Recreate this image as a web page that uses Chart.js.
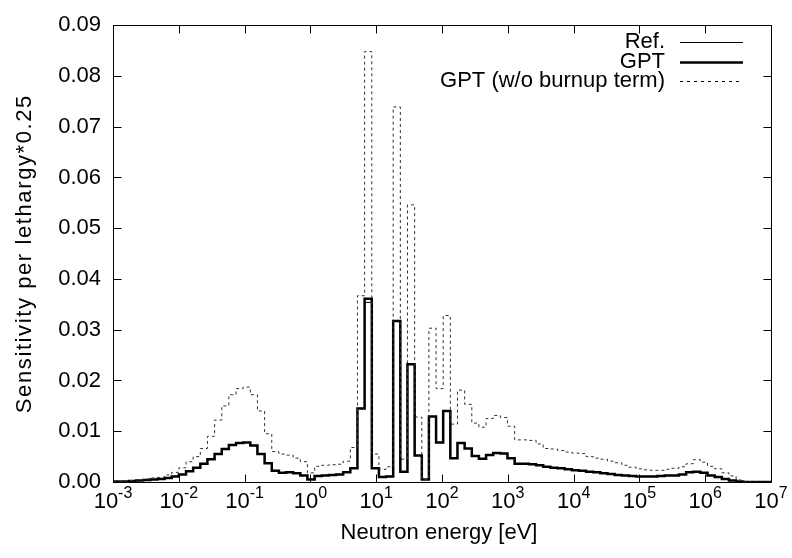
<!DOCTYPE html>
<html lang="en">
<head>
    <meta charset="UTF-8">
    <title>Sensitivity per lethargy</title>
    <script src="https://cdn.jsdelivr.net/npm/chart.js"></script>
    <style>
        html, body {
            margin: 0;
            padding: 0;
            background-color: #ffffff;
        }
        .chart-box {
            position: relative;
            width: 792px;
            height: 558px;
        }
    </style>
</head>
<body>
    <div class="chart-box">
        <canvas id="sensChart" width="792" height="558"></canvas>
    </div>

    <script>
// group boundaries as log10(E / eV), roughly 0.25 lethargy per group
const groupEdges = [
    -3, -2.867, -2.759, -2.650, -2.541, -2.433, -2.324, -2.216, -2.107, -1.999,
    -1.890, -1.782, -1.673, -1.565, -1.456, -1.347, -1.239, -1.130, -1.022, -0.913,
    -0.805, -0.696, -0.587, -0.479, -0.370, -0.262, -0.153, -0.045, 0.064, 0.173,
    0.281, 0.390, 0.498, 0.607, 0.715, 0.824, 0.933, 1.041, 1.150, 1.258,
    1.367, 1.475, 1.584, 1.693, 1.801, 1.910, 2.018, 2.127, 2.235, 2.344,
    2.453, 2.561, 2.670, 2.778, 2.887, 2.995, 3.104, 3.213, 3.321, 3.430,
    3.538, 3.647, 3.755, 3.864, 3.973, 4.081, 4.190, 4.298, 4.407, 4.515,
    4.624, 4.733, 4.841, 4.950, 5.058, 5.167, 5.275, 5.384, 5.493, 5.601,
    5.710, 5.818, 5.927, 6.035, 6.144, 6.253, 6.361, 6.470, 6.578, 6.687,
    6.795, 6.904, 7
];

// sensitivity per lethargy * 0.25, one value per group
const refValues = [
    0.0001, 0.0001, 0.0002, 0.0003, 0.0004, 0.0005, 0.0006, 0.0008, 0.0011, 0.0015,
    0.0021, 0.0028, 0.0036, 0.0045, 0.0055, 0.0065, 0.0073, 0.0077, 0.0078, 0.0072,
    0.0055, 0.0037, 0.0022, 0.0018, 0.0019, 0.0017, 0.0013, 0.0005, 0.0012, 0.0013,
    0.0014, 0.0015, 0.0019, 0.0027, 0.0145, 0.0354, 0.0027, 0.0010, 0.0011, 0.0317,
    0.0020, 0.0232, 0.0052, 0.0005, 0.0129, 0.0078, 0.0140, 0.0047, 0.0077, 0.0066,
    0.0051, 0.0046, 0.0053, 0.0057, 0.0056, 0.0047, 0.0036, 0.0036, 0.0035, 0.0033,
    0.0030, 0.0028, 0.0027, 0.0025, 0.0023, 0.0022, 0.0020, 0.0019, 0.0017, 0.0016,
    0.0014, 0.0013, 0.0012, 0.0011, 0.0011, 0.0011, 0.0012, 0.0013, 0.0013, 0.0015,
    0.0019, 0.0020, 0.0018, 0.0013, 0.0010, 0.0006, 0.0003, 0.0001, 0.0000, 0.0000,
    0.0000, 0.0000
];
const gptValues = [
    0.0001, 0.0001, 0.0002, 0.0003, 0.0004, 0.0005, 0.0006, 0.0008, 0.0011, 0.0015,
    0.0021, 0.0028, 0.0036, 0.0045, 0.0055, 0.0065, 0.0073, 0.0077, 0.0078, 0.0072,
    0.0055, 0.0037, 0.0022, 0.0018, 0.0019, 0.0017, 0.0013, 0.0005, 0.0012, 0.0013,
    0.0014, 0.0015, 0.0019, 0.0027, 0.0145, 0.0361, 0.0027, 0.0010, 0.0011, 0.0317,
    0.0020, 0.0232, 0.0052, 0.0005, 0.0129, 0.0078, 0.0140, 0.0047, 0.0077, 0.0066,
    0.0051, 0.0046, 0.0053, 0.0057, 0.0056, 0.0047, 0.0036, 0.0036, 0.0035, 0.0033,
    0.0030, 0.0028, 0.0027, 0.0025, 0.0023, 0.0022, 0.0020, 0.0019, 0.0017, 0.0016,
    0.0014, 0.0013, 0.0012, 0.0011, 0.0011, 0.0011, 0.0012, 0.0013, 0.0013, 0.0015,
    0.0019, 0.0020, 0.0018, 0.0013, 0.0010, 0.0006, 0.0003, 0.0001, 0.0000, 0.0000,
    0.0000, 0.0000
];
const noBurnupValues = [
    0.0001, 0.0002, 0.0003, 0.0004, 0.0006, 0.0008, 0.0009, 0.0014, 0.0019, 0.0028,
    0.0040, 0.0050, 0.0066, 0.0090, 0.0122, 0.0150, 0.0172, 0.0184, 0.0187, 0.0172,
    0.0140, 0.0095, 0.0060, 0.0055, 0.0053, 0.0047, 0.0040, 0.0018, 0.0031, 0.0033,
    0.0034, 0.0035, 0.0041, 0.0068, 0.0367, 0.0848, 0.0055, 0.0025, 0.0030, 0.0739,
    0.0045, 0.0546, 0.0128, 0.0005, 0.0303, 0.0184, 0.0328, 0.0114, 0.0181, 0.0153,
    0.0116, 0.0108, 0.0125, 0.0131, 0.0127, 0.0110, 0.0083, 0.0083, 0.0082, 0.0075,
    0.0066, 0.0065, 0.0062, 0.0059, 0.0057, 0.0056, 0.0050, 0.0047, 0.0045, 0.0041,
    0.0038, 0.0033, 0.0029, 0.0026, 0.0024, 0.0023, 0.0023, 0.0025, 0.0027, 0.0030,
    0.0036, 0.0044, 0.0039, 0.0031, 0.0026, 0.0018, 0.0012, 0.0004, 0.0001, 0.0000,
    0.0000, 0.0000
];

const xTickExponents = [-3, -2, -1, 0, 1, 2, 3, 4, 5, 6, 7];
const yTicks = [0, 0.01, 0.02, 0.03, 0.04, 0.05, 0.06, 0.07, 0.08, 0.09];
const seriesNames = ['Ref.', 'GPT', 'GPT (w/o burnup term)'];
const xTitle = 'Neutron energy [eV]';
const yTitle = 'Sensitivity per lethargy*0.25';

const FONT = "'Liberation Sans', Arial, Helvetica, sans-serif";
const FONT_SIZE = 22;

// turn group values into a histogram-like step line
function stepPoints(values) {
    let pts = [];
    for (let i = 0; i < values.length; i++) {
        pts.push({ x: Math.pow(10, groupEdges[i]), y: values[i] });
        pts.push({ x: Math.pow(10, groupEdges[i + 1]), y: values[i] });
    }
    return pts;
}

// gnuplot style border, inward ticks, 10^n labels, axis titles and the key
const gnuplotLook = {
    id: 'gnuplotLook',
    afterDatasetsDraw(chart) {
        const ctx = chart.ctx;
        const a = chart.chartArea;
        const xs = chart.scales.x;
        const ys = chart.scales.y;
        const L = Math.round(a.left) + 0.5, R = Math.round(a.right) + 0.5;
        const T = Math.round(a.top) + 0.5, B = Math.round(a.bottom) + 0.5;
        const tick = 8;

        ctx.save();
        ctx.strokeStyle = '#000';
        ctx.lineWidth = 1;
        ctx.setLineDash([]);
        ctx.beginPath();
        yTicks.forEach(v => {
            const py = Math.round(ys.getPixelForValue(v)) + 0.5;
            ctx.moveTo(L, py); ctx.lineTo(L + tick, py);
            ctx.moveTo(R, py); ctx.lineTo(R - tick, py);
        });
        xTickExponents.forEach(e => {
            const px = Math.round(xs.getPixelForValue(Math.pow(10, e))) + 0.5;
            ctx.moveTo(px, B); ctx.lineTo(px, B - tick);
            ctx.moveTo(px, T); ctx.lineTo(px, T + tick);
        });
        ctx.stroke();
        ctx.strokeRect(L, T, R - L, B - T);

        // x tick labels with superscript exponent
        ctx.fillStyle = '#000';
        ctx.textBaseline = 'alphabetic';
        ctx.textAlign = 'left';
        xTickExponents.forEach(e => {
            const px = xs.getPixelForValue(Math.pow(10, e));
            ctx.font = FONT_SIZE + 'px ' + FONT;
            const wb = ctx.measureText('10').width;
            ctx.font = '16px ' + FONT;
            const ws = ctx.measureText(String(e)).width;
            const x0 = px - (wb + ws) / 2;
            ctx.font = FONT_SIZE + 'px ' + FONT;
            ctx.fillText('10', x0, B + 25);
            ctx.font = '16px ' + FONT;
            ctx.fillText(String(e), x0 + wb, B + 15);
        });

        // x title
        ctx.font = FONT_SIZE + 'px ' + FONT;
        ctx.textAlign = 'center';
        ctx.textBaseline = 'middle';
        ctx.fillText(xTitle, (a.left + a.right) / 2 - 3, 533);

        // rotated y title, a little letter spaced like the gd rendering
        ctx.save();
        if ('letterSpacing' in ctx) ctx.letterSpacing = '1.6px';
        ctx.translate(25, (a.top + a.bottom) / 2);
        ctx.rotate(-Math.PI / 2);
        ctx.fillText(yTitle, 0, 0);
        ctx.restore();

        // key in the upper right corner
        const keyTextX = 665, keyX1 = 680, keyX2 = 743;
        const keyY = [42, 62, 81];
        ctx.textAlign = 'right';
        ctx.textBaseline = 'middle';
        seriesNames.forEach((name, i) => {
            ctx.fillText(name, keyTextX, keyY[i]);
        });
        const keyStyles = [
            { w: 1, dash: [] },
            { w: 2.5, dash: [] },
            { w: 1, dash: [3, 4] }
        ];
        keyStyles.forEach((s, i) => {
            ctx.lineWidth = s.w;
            ctx.setLineDash(s.dash);
            ctx.beginPath();
            ctx.moveTo(keyX1, keyY[i] + 0.5);
            ctx.lineTo(keyX2, keyY[i] + 0.5);
            ctx.stroke();
        });
        ctx.restore();
    }
};

const ctx = document.getElementById('sensChart').getContext('2d');
const sensChart = new Chart(ctx, {
    type: 'line',
    data: {
        datasets: [
            {
                label: seriesNames[2],
                data: stepPoints(noBurnupValues),
                borderColor: '#333',
                borderWidth: 1,
                borderDash: [3, 3],
                pointRadius: 0,
                tension: 0
            },
            {
                label: seriesNames[1],
                data: stepPoints(gptValues),
                borderColor: '#000',
                borderWidth: 2.5,
                pointRadius: 0,
                tension: 0
            },
            {
                label: seriesNames[0],
                data: stepPoints(refValues),
                borderColor: '#000',
                borderWidth: 1,
                pointRadius: 0,
                tension: 0
            }
        ]
    },
    options: {
        responsive: false,
        animation: false,
        devicePixelRatio: 1,
        layout: {
            padding: { left: 0, top: 16, right: 21, bottom: 0 }
        },
        plugins: {
            legend: { display: false },
            tooltip: { enabled: false }
        },
        scales: {
            x: {
                type: 'logarithmic',
                min: 1e-3,
                max: 1e7,
                grid: { display: false, drawTicks: false },
                border: { display: false },
                ticks: { display: false },
                afterFit: s => { s.height = 76; }
            },
            y: {
                type: 'linear',
                min: 0,
                max: 0.09,
                grid: { display: false, drawTicks: false },
                border: { display: false },
                ticks: {
                    color: '#000',
                    padding: 12,
                    font: { family: FONT, size: FONT_SIZE },
                    callback: v => v.toFixed(2)
                },
                afterBuildTicks: s => { s.ticks = yTicks.map(v => ({ value: v })); },
                afterFit: s => { s.width = 113; }
            }
        }
    },
    plugins: [gnuplotLook]
});
    </script>
</body>
</html>
